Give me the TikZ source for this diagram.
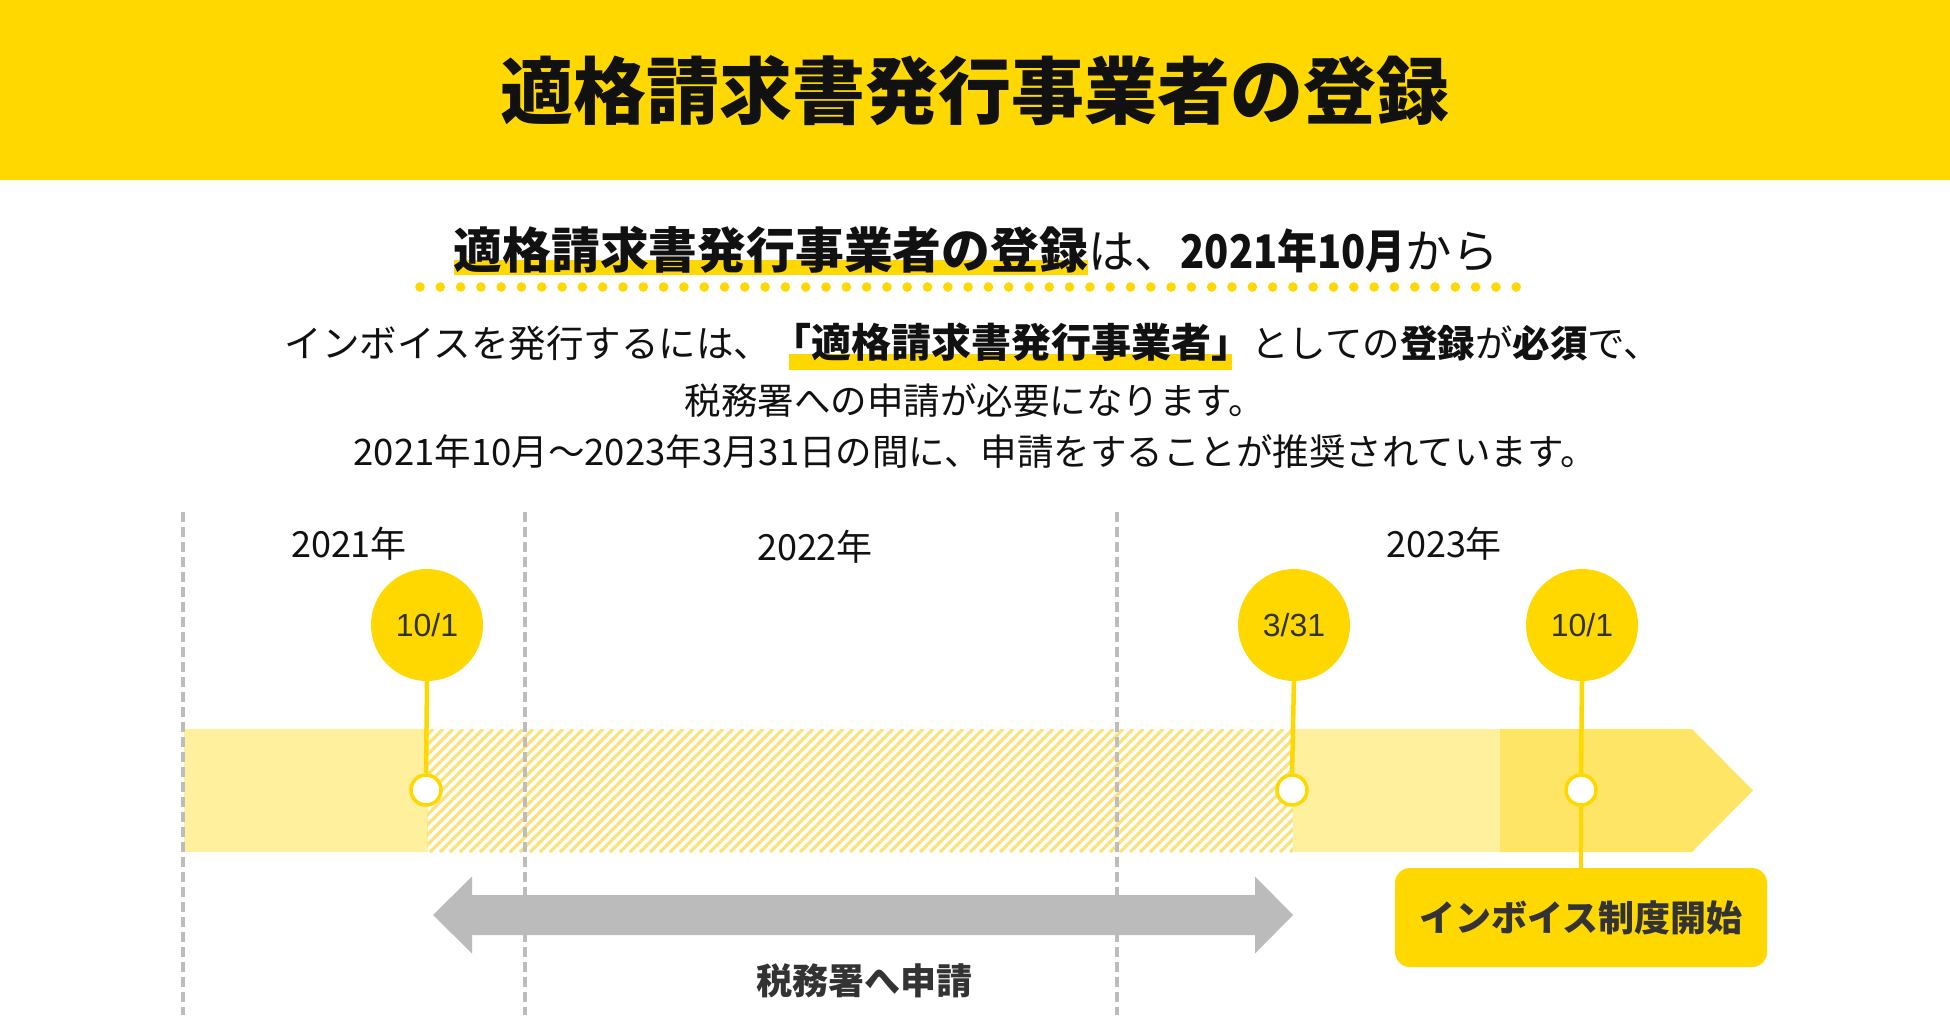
\documentclass[tikz,border=0pt]{standalone}
\usepackage{fontspec}
\usepackage{graphicx}
\setmainfont{Noto Sans CJK JP}
\newfontfamily\latf{Liberation Sans}
\definecolor{yel}{HTML}{FFD800}
\definecolor{bandL}{HTML}{FFF09E}
\definecolor{bandD}{HTML}{FEE566}
\definecolor{hatchc}{HTML}{FBE27A}
\definecolor{dgray}{HTML}{BDBDBD}
\definecolor{agray}{HTML}{BBBBBB}
\definecolor{dk}{HTML}{333333}
\definecolor{ink}{HTML}{111111}
\newsavebox{\hlbox}
\newcommand\hlsub[1]{\sbox\hlbox{#1}\rlap{\textcolor{yel}{\rule[-0.15em]{\wd\hlbox}{0.33em}}}\usebox\hlbox}
\newcommand\hlbody[1]{\sbox\hlbox{#1}\rlap{\hspace{18pt}\textcolor{yel}{\rule[-0.35em]{\dimexpr\wd\hlbox-37pt\relax}{0.43em}}}\usebox\hlbox}
\tikzset{
  txt/.style={inner sep=0pt, anchor=base, text=ink},
  bigc/.style={circle, fill=yel, minimum size=112pt, inner sep=0pt, font=\latf\fontsize{32}{36}\selectfont, text=dk},
  smallc/.style={circle, draw=yel, line width=3.5pt, fill=white, minimum size=30pt, inner sep=0pt},
  pin/.style={draw=yel, line width=4.5pt},
  vdash/.style={draw=dgray, line width=3.5pt, dash pattern=on 10pt off 5pt},
  yearlbl/.style={txt, font=\fontsize{36}{40}\selectfont},
}
\begin{document}
\begin{tikzpicture}[x=1pt,y=-1pt]
\useasboundingbox (0,0) rectangle (1950,1022);
\fill[white] (0,0) rectangle (1950,1022);
% banner
\fill[yel] (0,0) rectangle (1950,180);
\node[txt, font=\fontsize{73}{80}\selectfont\bfseries] (title) at (975,118) {適格請求書発行事業者の登録};
% subtitle
\node[txt, font=\fontsize{46.3}{54}\selectfont] (sub) at (976,268) {\hlsub{\bfseries\fontsize{48.8}{54}\selectfont 適格請求書発行事業者の登録}は、{\bfseries\scalebox{0.86}[1]{2021年10月}}から};
\foreach \i in {0,...,54} \fill[yel] (420+20.3*\i,287) circle[radius=4.8pt];
% body
\node[txt, font=\fontsize{37.5}{42}\selectfont] (l1) at (973,357) {インボイスを発行するには、\hlbody{\bfseries\fontsize{40}{44}\selectfont 「適格請求書発行事業者」}としての{\bfseries 登録}が{\bfseries 必須}で、};
\node[txt, font=\fontsize{36.5}{42}\selectfont] (l2) at (975,414) {税務署への申請が必要になります。};
\node[txt, font=\fontsize{36.5}{42}\selectfont] (l3) at (975,465) {2021年10月～2023年3月31日の間に、申請をすることが推奨されています。};
% band
\fill[bandL] (184,729) rectangle (428,852);
\begin{scope}
  \clip (427,729) rectangle (1293,852);
  \foreach \i in {300,310,...,1300} \draw[hatchc, line width=3.2pt] (\i,852) -- ++(123,-123);
\end{scope}
\fill[bandL] (1293,729) rectangle (1501,852);
\fill[bandD] (1500,729) -- (1692,729) -- (1753,790.5) -- (1692,852) -- (1500,852) -- cycle;
% dashed year separators
\draw[vdash] (183,512) -- (183,1015);
\draw[vdash] (525,512) -- (525,1015);
\draw[vdash] (1117,512) -- (1117,1015);
% years
\node[yearlbl] (y1) at (349,557) {2021年};
\node[yearlbl] (y2) at (815,560) {2022年};
\node[yearlbl] (y3) at (1444,557) {2023年};
% markers
\node[bigc] (c1) at (427,625) {10/1};
\node[bigc] (c2) at (1294,625) {3/31};
\node[bigc] (c3) at (1582,625) {10/1};
\node[smallc] (s1) at (426,790) {};
\node[smallc] (s2) at (1292,790) {};
\node[smallc] (s3) at (1581,790) {};
\node[fill=yel, rounded corners=15pt, minimum width=372pt, minimum height=99pt, inner sep=0pt, font=\fontsize{36}{40}\selectfont\bfseries, text=dk] (box) at (1581,917.5) {インボイス制度開始};
\draw[pin] (c1.south) -- (s1.north);
\draw[pin] (c2.south) -- (s2.north);
\draw[pin] (c3.south) -- (s3.north);
\draw[pin] (s3.south) -- (box.north);
% gray double arrow
\fill[agray] (433,915) -- (472,876.5) -- (472,895) -- (1255,895) -- (1255,876.5) -- (1293,915) -- (1255,953.5) -- (1255,935) -- (472,935) -- (472,953.5) -- cycle;
\node[txt, font=\fontsize{36}{40}\selectfont\bfseries, text=dk] (apply) at (864,994) {税務署へ申請};
\end{tikzpicture}
\end{document}
